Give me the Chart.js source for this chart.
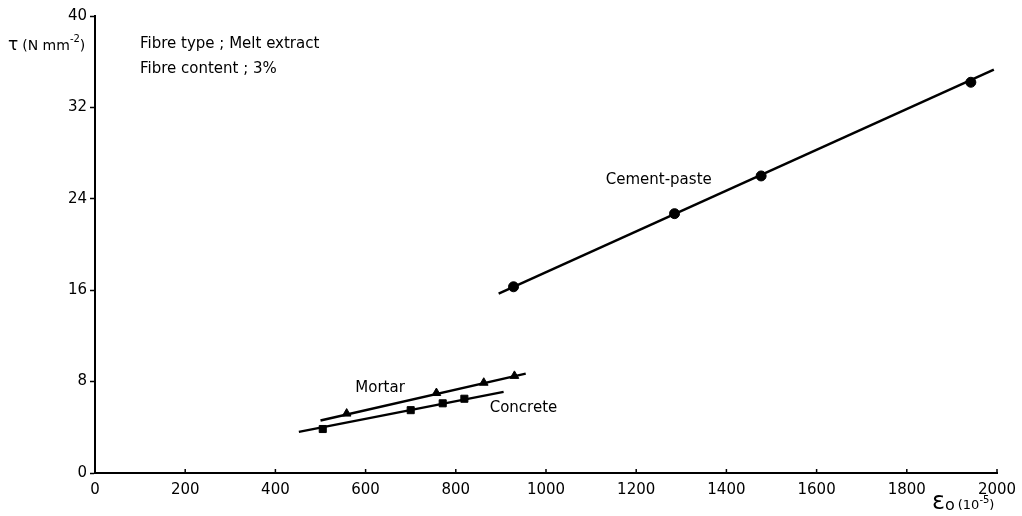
<!DOCTYPE html>
<html>
<head>
<meta charset="utf-8">
<script src="https://cdn.jsdelivr.net/npm/chart.js@4/dist/chart.umd.min.js"></script>
<style>
  html, body { margin: 0; padding: 0; background: #fff; }
  #wrap { width: 1022px; height: 516px; }
</style>
</head>
<body>
<div id="wrap"><canvas id="myChart" width="1022" height="516"></canvas></div>
<script>
// axis ticks
const xTicks = [0, 200, 400, 600, 800, 1000, 1200, 1400, 1600, 1800, 2000];
const yTicks = [0, 8, 16, 24, 32, 40];

// measured points
const cementX = [928, 1285, 1477, 1942];
const cementY = [16.3, 22.7, 26.0, 34.2];
const mortarX = [558, 757, 862, 930];
const mortarY = [5.2, 7.0, 7.9, 8.5];
const concreteX = [505, 700, 771, 819];
const concreteY = [3.85, 5.5, 6.1, 6.5];

// fitted lines (end points)
const cementLineX = [895, 1993];
const cementLineY = [15.7, 35.3];
const mortarLineX = [500, 955];
const mortarLineY = [4.6, 8.7];
const concreteLineX = [452, 906];
const concreteLineY = [3.6, 7.1];

const seriesNames = ['Cement-paste', 'Mortar', 'Concrete'];
const noteLines = ['Fibre type ; Melt extract', 'Fibre content ; 3%'];

const FONT = '"DejaVu Sans", sans-serif';

function pts(xs, ys) {
  return xs.map((x, i) => ({ x: x, y: ys[i] }));
}

function lineSet(xs, ys) {
  return {
    data: pts(xs, ys), showLine: true, borderColor: '#000', borderWidth: 2.5,
    pointRadius: 0, fill: false
  };
}
function markSet(xs, ys, style, r) {
  return {
    data: pts(xs, ys), showLine: false, pointStyle: style, pointRadius: r,
    backgroundColor: '#000', borderColor: '#000', borderWidth: 1
  };
}

// text labels and decorations
const labelPlugin = {
  id: 'labels',
  afterDraw(chart) {
    const ctx = chart.ctx;
    const xs = chart.scales.x, ys = chart.scales.y;
    const area = chart.chartArea;
    ctx.save();
    ctx.fillStyle = '#000';
    ctx.strokeStyle = '#000';

    // inward x ticks
    ctx.lineWidth = 1.5;
    xTicks.forEach(v => {
      if (v === 0) return;
      const px = xs.getPixelForValue(v);
      ctx.beginPath();
      ctx.moveTo(px, area.bottom);
      ctx.lineTo(px, area.bottom - 4);
      ctx.stroke();
    });

    ctx.font = '15px ' + FONT;
    ctx.textAlign = 'center';
    ctx.textBaseline = 'middle';
    ctx.fillText(seriesNames[0], xs.getPixelForValue(1250), ys.getPixelForValue(25.6));
    ctx.fillText(seriesNames[1], xs.getPixelForValue(632), ys.getPixelForValue(7.4));
    ctx.fillText(seriesNames[2], xs.getPixelForValue(950), ys.getPixelForValue(5.7));

    // note
    ctx.textAlign = 'left';
    ctx.fillText(noteLines[0], 140, 44);
    ctx.fillText(noteLines[1], 140, 69);

    // y title: τ (N mm-2)
    let x = 8, y = 46;
    ctx.font = '17px ' + FONT;
    ctx.fillText('τ', x, y); x += ctx.measureText('τ').width + 4;
    ctx.font = '14px ' + FONT;
    ctx.fillText('(N mm', x, y); x += ctx.measureText('(N mm').width;
    ctx.font = '10px ' + FONT;
    ctx.fillText('-2', x, y - 7); x += ctx.measureText('-2').width;
    ctx.font = '14px ' + FONT;
    ctx.fillText(')', x, y);

    // x title: εo (10-5)
    x = 932; y = 503;
    ctx.font = '24px ' + FONT;
    ctx.fillText('ε', x, y); x += ctx.measureText('ε').width;
    ctx.font = '16px ' + FONT;
    ctx.fillText('o', x, y + 3); x += ctx.measureText('o').width + 3;
    ctx.font = '13px ' + FONT;
    ctx.fillText('(10', x, y + 3); x += ctx.measureText('(10').width;
    ctx.font = '10px ' + FONT;
    ctx.fillText('-5', x, y - 3); x += ctx.measureText('-5').width;
    ctx.font = '13px ' + FONT;
    ctx.fillText(')', x, y + 3);
    ctx.restore();
  }
};

const config = {
  type: 'scatter',
  data: {
    datasets: [
      lineSet(cementLineX, cementLineY),
      lineSet(mortarLineX, mortarLineY),
      lineSet(concreteLineX, concreteLineY),
      markSet(cementX, cementY, 'circle', 5),
      markSet(mortarX, mortarY, 'triangle', 5),
      markSet(concreteX, concreteY, 'rect', 5)
    ]
  },
  options: {
    responsive: false,
    animation: false,
    layout: { padding: { top: 16, right: 25, left: 0, bottom: 0 } },
    plugins: { legend: { display: false }, tooltip: { enabled: false } },
    scales: {
      x: {
        type: 'linear', min: 0, max: 2000,
        afterBuildTicks: s => { s.ticks = xTicks.map(v => ({ value: v })); },
        afterFit: s => { s.height = 43; },
        grid: { display: false },
        border: { display: true, color: '#000', width: 2 },
        ticks: { color: '#000', padding: 0, maxRotation: 0, font: { family: FONT, size: 15 },
                 callback: v => String(v) }
      },
      y: {
        type: 'linear', min: 0, max: 40,
        afterBuildTicks: s => { s.ticks = yTicks.map(v => ({ value: v })); },
        afterFit: s => { s.width = 95; },
        grid: { display: true, drawOnChartArea: false, tickLength: 5, color: '#000', tickWidth: 1.5 },
        border: { display: true, color: '#000', width: 2 },
        ticks: { color: '#000', padding: 3, font: { family: FONT, size: 15 } }
      }
    }
  },
  plugins: [labelPlugin]
};

var myChart = new Chart(document.getElementById('myChart'), config);
</script>
</body>
</html>
